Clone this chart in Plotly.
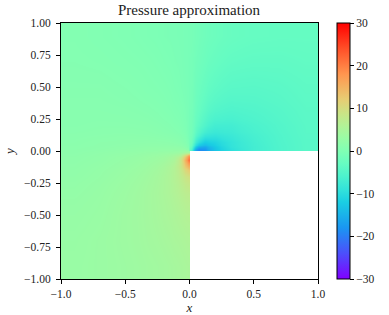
import plotly.graph_objects as go

left_x_edges = [-1, -0.8, -0.6, -0.4, -0.25, -0.15, -0.09, -0.05, -0.02, 0]
left_y_edges = [-1, -0.8, -0.6, -0.4, -0.25, -0.15, -0.09, -0.05, -0.02, 0,
                0.02, 0.05, 0.09, 0.15, 0.25, 0.4, 0.6, 0.8, 1]
left_values = [
    [3.0, 3.2, 3.5, 3.9, 4.2, 4.5, 4.7, 4.9, 5.0],
    [2.9, 3.2, 3.6, 4.1, 4.5, 4.9, 5.1, 5.3, 5.4],
    [2.7, 3.0, 3.6, 4.2, 4.8, 5.3, 5.7, 6.0, 6.1],
    [2.4, 2.8, 3.4, 4.2, 5.0, 5.8, 6.5, 7.0, 7.2],
    [2.1, 2.5, 3.1, 3.9, 4.9, 6.1, 7.4, 8.8, 9.5],
    [1.9, 2.3, 2.8, 3.5, 4.5, 6.0, 8.5, 12.5, 15],
    [1.8, 2.1, 2.6, 3.2, 3.9, 5.2, 8.5, 15, 21],
    [1.7, 2.0, 2.4, 2.9, 3.4, 4.3, 6, 11, 17],
    [1.6, 1.9, 2.2, 2.6, 2.9, 3.2, 3.6, 4.5, 5],
    [1.5, 1.7, 2.0, 2.2, 2.3, 2.4, 2.4, 2.2, 1.0],
    [1.4, 1.6, 1.8, 2.0, 2.0, 2.0, 1.8, 1.2, 0.0],
    [1.3, 1.5, 1.6, 1.7, 1.6, 1.4, 1.1, 0.6, -0.5],
    [1.2, 1.3, 1.4, 1.3, 1.1, 0.9, 0.6, 0.1, -0.8],
    [1.0, 1.1, 1.1, 1.0, 0.7, 0.4, 0.1, -0.3, -0.9],
    [0.9, 0.9, 0.8, 0.6, 0.3, 0.0, -0.2, -0.5, -0.9],
    [0.7, 0.7, 0.5, 0.2, 0.0, -0.3, -0.5, -0.7, -0.9],
    [0.5, 0.4, 0.2, 0.0, -0.3, -0.5, -0.6, -0.8, -0.9],
    [0.4, 0.2, 0.0, -0.3, -0.5, -0.6, -0.7, -0.8, -0.9],
]

right_x_edges = [0, 0.02, 0.05, 0.09, 0.15, 0.25, 0.4, 0.6, 0.8, 1]
right_y_edges = [0, 0.02, 0.05, 0.09, 0.15, 0.25, 0.4, 0.6, 0.8, 1]
right_values = [
    [-4, -13, -19, -18, -13, -9.5, -7, -5.5, -4.5],
    [-2.5, -9, -15, -16, -12.5, -9, -7, -5.5, -4.5],
    [-1.5, -5, -9.5, -12, -11, -8.8, -6.8, -5.4, -4.5],
    [-1.2, -3, -6, -8.5, -9, -8, -6.5, -5.3, -4.4],
    [-1.1, -2.2, -3.8, -5.5, -7, -7, -6, -5.1, -4.3],
    [-1.1, -1.8, -2.8, -3.9, -5, -5.5, -5.2, -4.7, -4.1],
    [-1, -1.6, -2.2, -2.9, -3.7, -4.3, -4.4, -4.2, -3.8],
    [-1, -1.3, -1.7, -2.2, -2.8, -3.4, -3.6, -3.6, -3.4],
    [-0.9, -1.1, -1.4, -1.8, -2.2, -2.7, -3, -3.1, -3.1],
]

rainbow = [
    [0.0, "#8000ff"], [0.1, "#4c4ffc"], [0.2, "#1a96f2"], [0.3, "#1acee3"],
    [0.35, "#33e3da"], [0.4, "#4cf2ce"], [0.45, "#66fcc2"], [0.5, "#80ffb4"],
    [0.55, "#99fca5"], [0.6, "#b3f296"], [0.65, "#cce385"], [0.7, "#e6ce74"],
    [0.8, "#ff964f"], [0.9, "#ff4f28"], [1.0, "#ff0000"],
]
cbar_ticks = [-30, -20, -10, 0, 10, 20, 30]
x_ticks = [-1, -0.5, 0, 0.5, 1]
y_ticks = [-1, -0.75, -0.5, -0.25, 0, 0.25, 0.5, 0.75, 1]

FONT = "Liberation Serif"
TICK = dict(family=FONT, size=11.5, color="#222")

fig = go.Figure()
fig.add_trace(go.Heatmap(
    x=left_x_edges, y=left_y_edges, z=left_values, zsmooth="best",
    colorscale=rainbow, zmin=-30, zmax=30, hoverinfo="skip",
    colorbar=dict(
        x=1.074, xanchor="left", xpad=0, y=0.5, yanchor="middle", ypad=0,
        len=1, lenmode="fraction", thickness=13, thicknessmode="pixels",
        outlinewidth=1, outlinecolor="black",
        tickmode="array", tickvals=cbar_ticks, ticks="outside", ticklen=4,
        tickwidth=1, tickcolor="black", tickfont=TICK,
    ),
))
fig.add_trace(go.Heatmap(
    x=right_x_edges, y=right_y_edges, z=right_values, zsmooth="best",
    colorscale=rainbow, zmin=-30, zmax=30, showscale=False, hoverinfo="skip",
))

axis_common = dict(
    showgrid=False, zeroline=False, showline=True, linecolor="black", linewidth=1,
    mirror=True, ticks="outside", ticklen=4, tickwidth=1, tickcolor="black",
    tickfont=TICK, tickmode="array", automargin=False,
)
fig.update_xaxes(range=[-1, 1], tickvals=x_ticks, tickformat=".1f",
                 title=dict(text="<i>x</i>", font=dict(family=FONT, size=13, color="#222"), standoff=6),
                 **axis_common)
fig.update_yaxes(range=[-1, 1], tickvals=y_ticks, tickformat=".2f", ticklabelstandoff=3,
                 title=dict(text="<i>y</i>", font=dict(family=FONT, size=13, color="#222"), standoff=6),
                 **axis_common)
fig.update_layout(
    template="none",
    width=389, height=315,
    margin=dict(l=61, r=71, t=23, b=36, pad=0),
    paper_bgcolor="white", plot_bgcolor="white",
    title=dict(text="Pressure approximation", x=0.486, xanchor="center",
               y=0.97, yanchor="middle",
               font=dict(family=FONT, size=15, color="#222")),
)
fig.write_html("out.html", config=dict(displayModeBar=False),
               post_script="document.body.style.margin='0';document.body.style.overflow='hidden';")
